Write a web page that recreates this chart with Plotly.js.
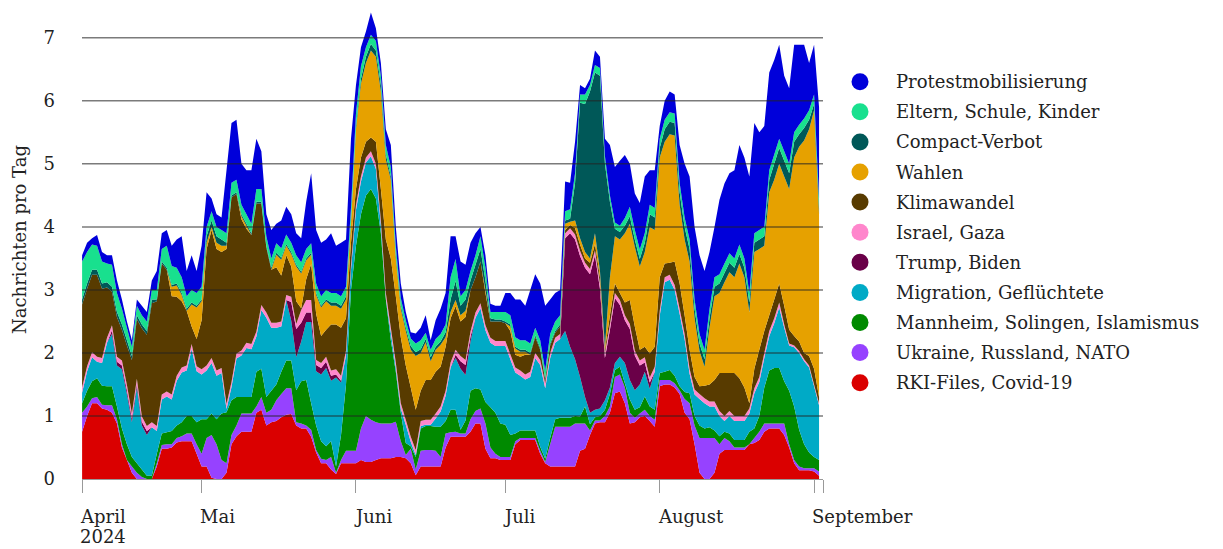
<!DOCTYPE html>
<html><head><meta charset="utf-8">
<script src="https://cdn.plot.ly/plotly-3.0.1.min.js"></script>
<style>html,body{margin:0;padding:0;background:#fff;}#chart{width:1223px;height:549px;}</style>
</head><body><div id="chart"></div>
<script>
const startDate = '2024-04-07';
const rki = [0.75,1.0,1.2,1.2,1.12,1.1,1.05,0.88,0.5,0.3, 0.1,0,0,0,0,0.2,0.48,0.48,0.5,0.58, 0.6,0.6,0.6,0.4,0.2,
 0.2,0.02,0,0,0.1,0.55,0.68,0.75,0.75,0.75, 1.05,1.1,0.85,0.9,0.92,0.98,1.02,1.03,0.85,0.8, 0.8,0.67,0.42,0.25,0.25,
 0.15,0.08,0.25,0.25,0.25,0.25,0.3,0.27,0.27,0.3, 0.33,0.33,0.33,0.35,0.35,0.33,0.25,0.06,0.2,0.2, 0.2,0.2,0.2,0.5,0.67,
 0.67,0.67,0.67,0.75,0.88,0.88,0.48,0.33,0.33,0.3, 0.3,0.3,0.55,0.62,0.62,0.62,0.62,0.4,0.25,0.2, 0.2,0.2,0.2,0.2,0.2,
 0.45,0.48,0.7,0.88,0.9,0.9,1.05,1.36,1.39,1.2, 0.88,0.9,0.98,1.0,0.92,0.83,1.47,1.5,1.5,1.45, 1.35,1.05,0.95,0.55,0.1,
 0,0,0.1,0.4,0.46,0.46,0.46,0.46,0.46,0.55, 0.57,0.62,0.75,0.8,0.8,0.8,0.7,0.5,0.25,0.14, 0.14,0.14,0.12,0.05];
const ukraine = [0.3,0.15,0.08,0.1,0.06,0.07,0.12,0.07,0.05,0, 0.1,0.1,0.03,0,0,0.05,0.06,0.07,0.05,0.07, 0.08,0.12,0.12,0.15,0.2,
 0.45,0.68,0.55,0.3,0.15,0.15,0.17,0.29,0.29,0.29, 0.1,0.2,0.2,0.2,0.33,0.37,0.42,0.41,0.05,0.08, 0.05,0.11,0.04,0.07,0.05,
 0.2,0.02,0.05,0.2,0.2,0.2,0.5,0.73,0.67,0.6, 0.55,0.55,0.55,0.56,0.25,0.05,0.23,0.09,0.25,0.26, 0.26,0.25,0.15,0.22,0.07,
 0.08,0.05,0.05,0.2,0.2,0.24,0.4,0.17,0.07,0.05, 0.05,0.05,0.05,0.03,0.03,0.03,0.03,0.05,0.02,0.35, 0.63,0.63,0.63,0.63,0.68,
 0.43,0.4,0.07,0.05,0.03,0.1,0.1,0.26,0.27,0.25, 0.17,0.07,0.06,0.1,0.08,0.11,0.1,0.07,0.07,0.07, 0.06,0.22,0.25,0.3,0.55,
 0.65,0.65,0.55,0.15,0.19,0.14,0.04,0.04,0.04,0, 0.08,0.13,0.13,0.08,0.08,0.08,0.18,0.05,0.05,0.06, 0.03,0.03,0.05,0.07];
const mannheim = [0.15,0.25,0.27,0.3,0.3,0.3,0.3,0.2,0.25,0.25, 0.15,0.15,0.12,0.05,0.05,0.15,0.18,0.19,0.21,0.2, 0.22,0.28,0.28,0.35,0.55,
 0.3,0.34,0.4,0.74,0.81,0.55,0.45,0.26,0.26,0.26, 0.55,0.45,0.25,0.3,0.25,0.35,0.44,0.44,0.51,0.67, 0.72,0.42,0.39,0.28,0.22,
 0.25,0.1,0.4,1.05,2.55,3.25,3.4,3.5,3.66,3.55, 3.02,1.97,1.32,0.79,0.45,0.19,0.04,0.2,0.35,0.38, 0.38,0.38,0.48,0.2,0.36,
 0.35,0.06,0.21,0.45,0.36,0.3,0.34,0.64,0.65,0.53, 0.51,0.35,0.12,0.12,0.12,0.12,0.12,0.06,0.05,0.1, 0.12,0.14,0.14,0.14,0.12,
 0.11,0.27,0.1,0.05,0.07,0.1,0.2,0.11,0.12,0.07, 0.21,0.13,0.1,0.21,0.15,0.16,0.11,0.13,0.16,0.12, 0.06,0.11,0.16,0.15,0.2,
 0.15,0.17,0.12,0.13,0.1,0.12,0.12,0.12,0.12,0.2, 0.15,0.25,0.57,0.84,0.88,0.88,0.67,0.85,0.85,0.58, 0.38,0.25,0.18,0.18];
const migration = [0.17,0.31,0.38,0.26,0.36,0.69,0.83,0.65,0.94,0.8, 0.55,1.2,0.7,0.65,0.77,0.36,0.54,0.57,0.5,0.71, 0.79,0.72,1.06,0.81,0.71,
 0.77,0.8,0.69,0.64,0.05,0.21,0.61,0.66,0.78,0.76, 0.56,0.93,1.26,1.0,0.9,0.72,0.96,0.63,0.52,0.63, 0.92,1.29,0.86,1.06,1.24,
 0.96,1.41,0.83,0.46,0.32,0.57,0.52,0.52,0.52,0.47, 0.12,0.02,0.12,0.07,0.07,0.29,0.07,0.03,0.04,0.02, 0.02,0.13,0.24,0.4,0.67,
 0.82,0.97,0.72,0.78,1.12,1.29,1.14,1.02,1.06,1.23, 1.25,1.2,0.97,0.87,0.81,0.85,1.15,1.3,1.12,1.27, 1.21,1.25,1.38,1.13,0.9,
 0.63,0.15,0.18,0.12,0.12,0.15,0.1,0.11,0.16,0.32, 0.31,0.31,0.36,0.39,0.28,0.6,0.91,1.42,1.43,1.36, 1.15,0.84,0.31,0.34,0.42,
 0.4,0.33,0.38,0.32,0.17,0.28,0.3,0.3,0.3,0.29, 0.56,0.54,0.47,0.55,0.71,0.96,0.85,0.72,0.94,1.22, 1.32,1.35,1.12,0.87];
const trump = [0,0,0,0,0,0,0.06,0.06,0.06,0.06, 0.06,0.06,0.06,0.06,0,0,0,0,0,0, 0,0,0,0,0,
 0,0,0,0,0,0,0,0,0,0, 0,0,0,0,0,0,0,0.3,0.45,0.3, 0.15,0.15,0.1,0.1,0.1,
 0.08,0.05,0.03,0,0,0,0,0,0,0, 0,0,0,0,0,0,0,0,0,0, 0,0,0,0,0,
 0.05,0.12,0.16,0.08,0,0,0,0,0,0, 0,0,0,0,0,0,0,0,0,0, 0,0,1.47,1.8,1.9,
 1.92,2.05,2.2,2.45,1.9,0.67,0.92,1.03,0.82,0.68, 0.81,0.55,0.3,0.15,0.1,0,0,0,0,0, 0,0,0,0,0,
 0,0,0,0,0,0,0,0,0,0, 0,0,0,0,0,0,0,0,0,0, 0,0,0,0];
const israel = [0.08,0.08,0.08,0.08,0.08,0.08,0.08,0.08,0.08,0.08, 0.08,0.08,0.08,0.08,0.08,0.08,0.08,0.08,0.08,0.08, 0.08,0.08,0.08,0.08,0.08,
 0.08,0.08,0.08,0.08,0.08,0.08,0.08,0.08,0.08,0.08, 0.08,0.08,0.08,0.08,0.08,0.08,0.08,0.08,0.08,0.2, 0.2,0.2,0.08,0.08,0.08,
 0.08,0.08,0.08,0.08,0.08,0.08,0.08,0.08,0.08,0.08, 0.08,0.08,0.08,0.08,0.08,0.08,0.08,0.08,0.08,0.08, 0.08,0.08,0.08,0.08,0.08,
 0.08,0.08,0.08,0.08,0.08,0.08,0.08,0.08,0.08,0.08, 0.08,0.08,0.08,0.08,0.08,0.08,0.08,0.08,0.08,0.08, 0.08,0.08,0.08,0.08,0.08,
 0.08,0.08,0.08,0.08,0.08,0.08,0.08,0.08,0.08,0.08, 0.08,0.08,0.08,0.08,0.08,0.08,0.08,0.08,0.08,0.08, 0.08,0.08,0.08,0.08,0.08,
 0.08,0.08,0.08,0.08,0.08,0.08,0.08,0.08,0.08,0.08, 0.08,0.08,0.08,0.08,0.08,0.08,0.05,0.03,0.03,0.03, 0.03,0.03,0.03,0.03];
const klima = [1.32,1.23,1.23,1.3,1.1,0.8,0.53,0.63,0.49,0.63, 0.85,0.95,1.4,1.45,1.89,1.98,2.08,1.93,1.56,1.25, 1.05,0.87,0.28,0.43,0.78,
 1.85,2.03,1.93,1.84,2.46,2.93,2.53,2.08,1.81,1.73, 2.03,1.61,1.03,0.84,0.88,0.73,0.63,0.48,0.36,0.03, 0.33,0.57,0.73,0.43,0.43,
 0.73,0.71,0.76,0.51,0.35,0.25,0.3,0.25,0.22,0.35, 0.5,0.85,1.1,1.05,1.05,0.86,0.78,0.64,0.48,0.63, 0.63,0.66,0.63,0.7,0.7,
 0.69,0.55,0.68,0.66,0.56,0.66,0.51,0.26,0.31,0.31, 0.28,0.37,0.2,0.22,0.31,0.27,0.25,0.16,0.05,0.12, 0.08,0.12,0.05,0.05,0.1,
 0.1,0.07,0.1,0.1,0.1,0.05,0.15,0.15,0.11,0.2, 0.38,0.38,0.17,0.17,0.38,0.32,0.53,0.22,0.19,0.37, 0.4,0.3,0.3,0.2,0.12,
 0.2,0.27,0.34,0.6,0.68,0.6,0.68,0.6,0.45,0.08, 0.31,0.43,0.35,0.25,0.3,0.3,0.3,0.22,0.15,0.15, 0.1,0.15,0.25,0.1];
const wahlen = [0,0,0,0,0,0,0,0,0,0, 0,0,0,0,0,0,0,0,0.15,0.18, 0.1,0,0.35,0.5,0.3,
 0.1,0.05,0.1,0.1,0.05,0,0,0.05,0.05,0, 0,0,0,0,0.2,0.25,0.15,0.2,0.55,0.55, 0.3,0.15,0.3,0.45,0.45,
 0.3,0.3,0.3,0.3,0.3,0.95,1.17,1.25,1.38,1.35, 1.55,1.27,1.25,0.6,0.45,0.55,0.6,0.85,0.6,0.6, 0.3,0.35,0.35,0.15,0.1,
 0.1,0.1,0.1,0,0,0,0.05,0,0,0, 0,0.07,0.1,0.08,0.05,0,0,0,0,0, 0,0,0.1,0.05,0.12,
 0.1,0.1,0.07,0.17,0.1,0.05,0.6,0.75,0.85,1.1, 1.21,1.26,1.32,1.5,2.01,1.85,1.9,1.93,2.04,2.0, 1.25,1.2,1.4,0.93,0.56,
 0.3,0.9,1.33,1.27,1.44,1.6,1.52,1.82,1.75,1.45, 1.85,1.6,1.35,1.95,1.9,1.9,2.05,2.23,2.83,3.09, 3.37,3.6,4.1,2.9];
const compact = [0.08,0.08,0.08,0.08,0.08,0.08,0.08,0.08,0.08,0.08, 0.06,0.06,0.06,0.06,0.06,0.03,0.03,0.03,0.03,0.03, 0.03,0.03,0.03,0.03,0.03,
 0.1,0.1,0.1,0.1,0.05,0.03,0.03,0.03,0.03,0.03, 0.03,0.03,0.03,0.03,0.03,0.03,0.03,0.03,0.03,0.03, 0.03,0.03,0.03,0.03,0.03,
 0.05,0.05,0.05,0.05,0.05,0.05,0.08,0.1,0.1,0.1, 0.1,0.08,0.05,0.05,0.05,0.05,0.06,0.06,0.06,0.05, 0.06,0.05,0.05,0.08,0.2,
 0.3,0.15,0.18,0.15,0.2,0.2,0.15,0.05,0.03,0.03, 0.03,0.03,0.03,0.03,0.03,0.03,0.03,0.03,0.03,0.03, 0.03,0.03,0.05,0.05,0.6,
 2.15,2.35,2.65,2.55,3.1,2.9,1.2,0.12,0.12,0.12, 0.12,0.12,0.12,0.15,0.2,0.2,0.15,0.2,0.2,0.2, 0.2,0.2,0.2,0.15,0.12,
 0.12,0.15,0.15,0.15,0.15,0.15,0.15,0.15,0.15,0.15, 0.15,0.15,0.15,0.2,0.25,0.25,0.25,0.25,0.25,0.2, 0.2,0.15,0.1,0.1];
const eltern = [0.6,0.5,0.4,0.38,0.35,0.3,0.35,0.3,0.25,0.2, 0.15,0.15,0.15,0.15,0.15,0.15,0.2,0.35,0.3,0.25, 0.25,0.2,0.2,0.2,0.2,
 0.15,0.15,0.15,0.15,0.15,0.2,0.2,0.15,0.15,0.15, 0.2,0.2,0.15,0.15,0.15,0.15,0.15,0.15,0.15,0.15, 0.15,0.15,0.15,0.15,0.15,
 0.15,0.15,0.15,0.15,0.2,0.2,0.2,0.15,0.15,0.15, 0.15,0.15,0.15,0.15,0.12,0.12,0.12,0.14,0.14,0.1, 0.12,0.12,0.12,0.12,0.35,
 0.35,0.15,0.15,0.15,0.15,0.2,0.2,0.1,0.12,0.12, 0.15,0.15,0.15,0.15,0.15,0.15,0.12,0.12,0.12,0.15, 0.15,0.15,0.15,0.15,0.15,
 0.13,0.15,0.1,0.12,0.12,0.12,0.1,0.1,0.1,0.12, 0.15,0.15,0.15,0.15,0.15,0.15,0.15,0.15,0.15,0.15, 0.15,0.15,0.15,0.15,0.15,
 0.15,0.15,0.15,0.15,0.15,0.15,0.15,0.15,0.15,0.15, 0.15,0.15,0.15,0.15,0.15,0.15,0.15,0.15,0.15,0.15, 0.15,0.15,0.15,0.15];
const protest = [0.1,0.15,0.1,0.17,0.15,0.13,0.15,0.2,0.15,0.1, 0.1,0.1,0.15,0.15,0.15,0.3,0.25,0.25,0.32,0.45, 0.65,0.4,0.55,0.35,0.65,
 0.55,0.2,0.2,0.2,1.0,0.95,0.95,0.65,0.7,0.85, 0.8,0.6,0.35,0.45,0.31,0.44,0.44,0.45,0.35,0.38, 0.75,1.11,0.85,0.85,0.8,
 0.95,0.75,0.85,0.75,1.1,0.45,0.3,0.25,0.35,0.2, 0.2,0.25,0.35,0.3,0.23,0.13,0.1,0.16,0.2,0.28, 0.15,0.3,0.4,0.5,0.65,
 0.36,0.55,0.4,0.45,0.35,0.15,0.2,0.13,0.1,0.1, 0.3,0.35,0.6,0.65,0.55,0.85,0.85,0.9,1.03,0.55, 0.45,0.4,0.47,0.42,0.5,
 0.15,0.1,0.1,0.23,0.18,0.28,0.8,0.88,1.03,1.0, 0.68,0.58,0.74,0.9,0.55,0.6,0.2,0.3,0.33,0.3, 0.6,0.85,1.0,1.15,1.25,
 1.25,0.9,0.8,1.18,1.27,1.27,1.4,1.58,1.6,1.85, 1.75,1.55,1.6,1.55,1.5,1.49,1.2,1.2,1.39,1.27, 1.17,0.75,0.79,1.45];

// stacking order: bottom to top
const seriesNames = ['RKI-Files, Covid-19','Ukraine, Russland, NATO','Mannheim, Solingen, Islamismus','Migration, Geflüchtete','Trump, Biden','Israel, Gaza','Klimawandel','Wahlen','Compact-Verbot','Eltern, Schule, Kinder','Protestmobilisierung'];
const seriesValues = [rki, ukraine, mannheim, migration, trump, israel, klima, wahlen, compact, eltern, protest];
const seriesColors = ['#da0000','#9642ff','#008a00','#00aac6','#6a0048','#ff86cc','#583b00','#e6a100','#005858','#18e08e','#0000da'];

const monthTicks = ['2024-04-07','2024-05-01','2024-06-01','2024-07-01','2024-08-01','2024-09-01'];
const monthLabels = ['April','Mai','Juni','Juli','August','September'];
const yearLabel = '2024';
const axisEnd = '2024-09-02 19:00';
const yTicks = [0,1,2,3,4,5,6,7];

const base = Date.UTC(2024,3,7);
const dates = rki.map((_, i) => new Date(base + i*86400000).toISOString().slice(0,10));

const FONT = 'DejaVu Serif';
const traces = seriesValues.map((vals, k) => ({
  type:'scatter', x: dates, y: vals, name: seriesNames[k], stackgroup:'one',
  mode:'none', fillcolor: seriesColors[k], line:{width:0}, showlegend:false, hoverinfo:'skip'
}));

const shapes = [];
yTicks.filter(v => v > 0).forEach(v => shapes.push({
  type:'line', xref:'paper', x0:0, x1:1, yref:'y', y0:v, y1:v,
  line:{color:'rgba(35,35,35,0.6)', width:1.5}, layer:'above'
}));

const annotations = [];
const plotH = 479, plotW = 741;
for (let r = 0; r < seriesNames.length; r++) {
  const k = seriesNames.length - 1 - r;
  const ypx = 81.7 + 30.1 * r;
  const py = (plotH - ypx) / plotH;
  shapes.push({type:'circle', xref:'paper', yref:'paper', xsizemode:'pixel', ysizemode:'pixel',
    xanchor:(860-82)/plotW, yanchor:py, x0:-8.5, x1:8.5, y0:-8.5, y1:8.5,
    fillcolor:seriesColors[k], line:{width:0}});
  annotations.push({xref:'paper', yref:'paper', x:(894-82)/plotW, y:py, xanchor:'left', yanchor:'middle',
    text:seriesNames[k], showarrow:false, font:{family:FONT, size:18, color:'#222'}});
}
monthTicks.forEach((d, i) => annotations.push({
  xref:'x', yref:'paper', x:d, y:-(505-479)/plotH, xanchor:'left', yanchor:'top', align:'left',
  text:monthLabels[i], showarrow:false, font:{family:FONT, size:18, color:'#222'}, xshift:-3, borderpad:0
}));
annotations.push({
  xref:'x', yref:'paper', x:monthTicks[0], y:-(548-479)/plotH, xanchor:'left', yanchor:'bottom', align:'left',
  text:yearLabel, showarrow:false, font:{family:FONT, size:18, color:'#222'}, xshift:-3, borderpad:0
});

const layout = {
  width:1223, height:549,
  margin:{l:82, r:400, t:0, b:70},
  paper_bgcolor:'#fff', plot_bgcolor:'#fff',
  showlegend:false,
  xaxis:{type:'date', range:['2024-04-06 23:30', axisEnd], tickvals:monthTicks.concat([axisEnd]),
    showticklabels:false, ticks:'outside', ticklen:13, tickcolor:'#999', tickwidth:1,
    showline:true, linecolor:'#999', linewidth:1, showgrid:false, zeroline:false, fixedrange:true},
  yaxis:{range:[0,7.6], tickvals:yTicks, ticktext:yTicks.map(String), showgrid:false, zeroline:false,
    ticks:'', ticklabelstandoff:26, tickfont:{family:FONT, size:18, color:'#222'}, fixedrange:true,
    title:{text:'Nachrichten pro Tag', font:{family:FONT, size:18, color:'#222'}, standoff:12}},
  shapes:shapes, annotations:annotations,
  font:{family:FONT, color:'#222'}
};
Plotly.newPlot('chart', traces, layout, {displayModeBar:false, staticPlot:true});
</script></body></html>
